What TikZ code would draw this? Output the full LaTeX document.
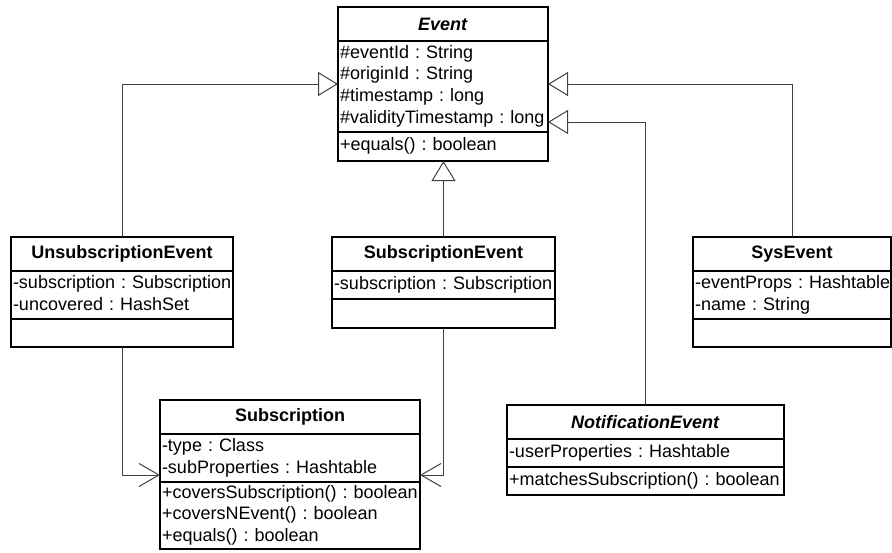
\documentclass[tikz,border=0pt]{standalone}
\usepackage{fontspec}
\setmainfont{Liberation Sans}
\usepackage{tikz}
\usetikzlibrary{arrows.meta,calc}
\frenchspacing
\newcommand{\umlfont}{\fontsize{18}{21.7}\selectfont}
\newcommand{\rows}[1]{\begin{tabular}{@{}l@{}}#1\end{tabular}}
\tikzstyle{part}=[draw, line width=1.3pt, anchor=north west, inner xsep=2pt, inner ysep=0pt, outer sep=0pt, font=\umlfont, align=left]
\tikzstyle{head}=[part, align=center, font=\umlfont\bfseries]
\tikzstyle{link}=[draw=black!75, line width=1pt]
\tikzstyle{gen}=[link, -{Triangle[open, length=20pt, width=24pt]}]
\tikzstyle{dep}=[link, -{Straight Barb[length=20pt, width=23pt]}]
\newcommand{\cls}[9]{
  \node[head, minimum width=#4pt, minimum height=34pt] (#1) at (#2,#3) {#5};
  \node[part, minimum width=#4pt, minimum height=#7pt, text width=#4pt-4pt] (#1-a) at (#1.south west) {\rows{#6}};
  \node[part, minimum width=#4pt, minimum height=#9pt, text width=#4pt-4pt] (#1-m) at (#1-a.south west) {\rows{#8}};
}

\begin{document}
\begin{tikzpicture}[x=1pt, y=-1pt]
       \useasboundingbox (0,0) rectangle (892,552);
       \cls{event}{338}{7}{210}{\textit{Event}}{\#eventId : String\\\#originId : String\\\#timestamp : long\\\#validityTimestamp : long}{91}{+equals() : boolean}{29}
       \cls{unsub}{11}{237}{222}{UnsubscriptionEvent}{-subscription : Subscription\\-uncovered : HashSet}{48}{}{28}
       \cls{subev}{332}{237}{223}{SubscriptionEvent}{-subscription : Subscription}{28}{}{29}
       \cls{sys}{693}{237}{198}{SysEvent}{-eventProps : Hashtable\\-name : String}{48}{}{28}
       \cls{subs}{160}{400}{260}{Subscription}{-type : Class\\-subProperties : Hashtable}{48}{+coversSubscription() : boolean\\+coversNEvent() : boolean\\+equals() : boolean}{67}
       \cls{notif}{507}{405}{277}{\textit{NotificationEvent}}{-userProperties : Hashtable}{28}{+matchesSubscription() : boolean}{28}
       \draw[gen] (unsub.north) |- ($(event-a.north west)+(0,43)$);
       \draw[gen] (subev.north) -- (subev.north |- event-m.south);
       \draw[gen] (sys.north) |- ($(event-a.north east)+(0,43)$);
       \draw[gen] (notif.north) |- ($(event-a.north east)+(0,81)$);
       \draw[dep] (unsub-m.south) |- ($(subs-a.south west)+(0,-7)$);
       \draw[dep] (subev-m.south) |- ($(subs-a.south east)+(0,-7)$);
     \end{tikzpicture}
\end{document}
